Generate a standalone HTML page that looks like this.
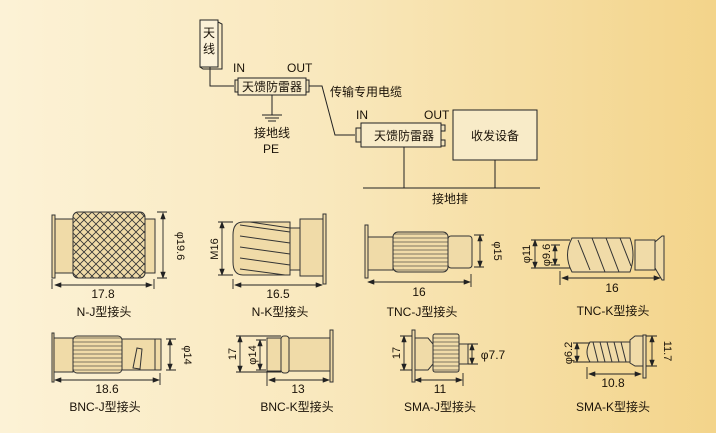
<!DOCTYPE html>
<html><head><meta charset="utf-8"><style>
html,body{margin:0;padding:0;width:716px;height:433px;overflow:hidden}
body{background:linear-gradient(90deg,#fcf2d6 0%,#f9e8bd 45%,#f3d48a 100%)}
svg{display:block}
text{font-family:"Liberation Sans","Noto Sans CJK SC",sans-serif;fill:#1a1208}
</style></head><body>
<svg width="716" height="433" viewBox="0 0 716 433" xmlns="http://www.w3.org/2000/svg">
<defs>
<marker id="a" markerWidth="8" markerHeight="6" refX="7" refY="3" orient="auto-start-reverse"><path d="M0,0 L8,3 L0,6 Z" fill="#222"/></marker>
<pattern id="knurl" width="8" height="8" patternUnits="userSpaceOnUse"><rect width="8" height="8" fill="#f0dba8"/><path d="M0,0L8,8M8,0L0,8" stroke="#333" stroke-width="0.8"/></pattern>
<pattern id="vstripe" width="4" height="4" patternUnits="userSpaceOnUse"><rect width="4" height="4" fill="#f0dba8"/><path d="M0,2H4" stroke="#333" stroke-width="0.6"/></pattern>
</defs>
<g stroke="#222" stroke-width="1" fill="none">
<rect x="200" y="20" width="18" height="47" fill="#fbf1d8"/>
<path d="M218,22 L222,24 L222,69 L203,69 L200,67" />
<path d="M210,67 V86 H234"/>
<rect x="235" y="80" width="3" height="12" fill="#f3e4bc"/>
<rect x="238" y="78" width="68" height="17" fill="#f8ebc8"/>
<rect x="306" y="80" width="3" height="12" fill="#f3e4bc"/>
<path d="M272,95 V115 M262,115 H282 M265,118 H279 M268,121 H276"/>
<path d="M309,86 H322 L335,135 H355"/>
<rect x="356" y="128" width="5" height="14" fill="#f3e4bc"/>
<rect x="361" y="123" width="80" height="24" fill="#f8ebc8"/>
<rect x="441" y="125" width="4" height="6" fill="#f3e4bc"/>
<rect x="441" y="140" width="4" height="6" fill="#f3e4bc"/>
<rect x="453" y="110" width="84" height="50" fill="#f8ebc8"/>
<path d="M404,147 V188 M495,160 V188 M363,188 H540"/>
</g>
<g font-size="12">
<text x="203" y="37">天</text><text x="203" y="53">线</text>
<text x="233" y="72">IN</text><text x="287" y="72">OUT</text>
<text x="242" y="91">天馈防雷器</text>
<text x="254" y="137">接地线</text><text x="263" y="153">PE</text>
<text x="330" y="96">传输专用电缆</text>
<text x="356" y="119">IN</text><text x="424" y="119">OUT</text>
<text x="374" y="140">天馈防雷器</text>
<text x="471" y="140">收发设备</text>
<text x="432" y="203">接地排</text>
</g>
<g stroke="#333" stroke-width="1" fill="#f0dba8">
<rect x="52" y="215" width="3" height="63"/>
<rect x="55" y="219" width="18" height="54"/>
<rect x="73" y="212" width="72" height="66" rx="5" fill="url(#knurl)"/>
<rect x="145" y="219" width="10" height="54"/>
<path d="M243,222 H290 V275 H243 Q233,275 233,262 V235 Q233,222 243,222 Z"/>
<path d="M240,225 L290,232 M240,236 L290,243 M240,247 L290,254 M240,258 L290,265 M240,269 L285,275 M250,222 L290,228" fill="none"/>
<rect x="290" y="228" width="10" height="42"/>
<rect x="300" y="219" width="23" height="57"/>
<rect x="323" y="214" width="3" height="70"/>
<rect x="365" y="225" width="3" height="53"/>
<rect x="368" y="237" width="25" height="33"/>
<rect x="393" y="232" width="55" height="40" rx="5" fill="url(#vstripe)"/>
<rect x="448" y="236" width="24" height="32" rx="3"/>
<path d="M572,238 H630 Q636,255 630,272 H572 Q563,255 572,238 Z"/>
<path d="M578,240 L590,270 M592,238 L605,272 M606,238 L619,272 M620,238 L631,266" fill="none"/>
<rect x="635" y="240" width="20" height="30"/>
<path d="M655,242 L662,236 H664 V280 H662 L655,268 Z"/>
<rect x="52" y="333" width="2" height="49"/>
<rect x="54" y="338" width="19" height="34"/>
<rect x="73" y="336" width="49" height="37" rx="4" fill="url(#vstripe)"/>
<rect x="122" y="339" width="33" height="31"/>
<rect x="155" y="339" width="6" height="31"/>
<path d="M133,368 L137,348 L142,349 L140,369 Z"/>
<rect x="267" y="338" width="14" height="33"/>
<rect x="281" y="336" width="8" height="37" rx="3"/>
<rect x="289" y="338" width="41" height="33"/>
<rect x="330" y="330" width="3" height="52"/>
<rect x="412" y="330" width="3" height="52"/>
<path d="M415,338 H428 L433,344 V364 L428,370 H415 Z"/>
<rect x="433" y="334" width="26" height="38" rx="2" fill="url(#vstripe)"/>
<rect x="459" y="344" width="9" height="20"/>
<path d="M590,342 H630 V362 H590 Q584,352 590,342 Z"/>
<path d="M593,342 L598,362 M600,342 L605,362 M607,342 L612,362 M614,342 L619,362 M621,342 L626,362" fill="none"/>
<path d="M630,340 L635,336 H643 V366 H635 L630,363 Z"/>
<rect x="643" y="335" width="3" height="43"/>
</g>
<g stroke="#222" stroke-width="0.9" fill="none">
<path d="M163,213V278" marker-start="url(#a)" marker-end="url(#a)"/><path d="M157,212H167M157,278H167"/>
<path d="M55,285H152" marker-start="url(#a)" marker-end="url(#a)"/><path d="M52,279V289M154,279V289"/>
<path d="M222,222V275" marker-start="url(#a)" marker-end="url(#a)"/><path d="M218,222H233M218,275H233"/>
<path d="M235,285H322" marker-start="url(#a)" marker-end="url(#a)"/><path d="M233,279V289"/>
<path d="M480,235V267" marker-start="url(#a)" marker-end="url(#a)"/><path d="M474,235H484M474,267H484"/>
<path d="M368,282H470" marker-start="url(#a)" marker-end="url(#a)"/><path d="M471,274V287"/>
<path d="M535,240V268" marker-start="url(#a)" marker-end="url(#a)"/><path d="M531,240H570M531,268H570"/>
<path d="M555,245V265" marker-start="url(#a)" marker-end="url(#a)"/><path d="M551,245H560M551,265H560"/>
<path d="M562,278H660" marker-start="url(#a)" marker-end="url(#a)"/><path d="M560,271V285"/>
<path d="M170,339V370" marker-start="url(#a)" marker-end="url(#a)"/><path d="M166,339H176M166,370H176"/>
<path d="M55,380H159" marker-start="url(#a)" marker-end="url(#a)"/><path d="M160,373V385"/>
<path d="M240,336V372" marker-start="url(#a)" marker-end="url(#a)"/><path d="M236,336H281M236,372H281"/>
<path d="M260,340V370" marker-start="url(#a)" marker-end="url(#a)"/><path d="M256,340H266M256,370H266"/>
<path d="M269,380H329" marker-start="url(#a)" marker-end="url(#a)"/><path d="M267,372V386"/>
<path d="M404,336V370" marker-start="url(#a)" marker-end="url(#a)"/><path d="M400,336H412M400,370H412"/>
<path d="M472,344V364" marker-start="url(#a)" marker-end="url(#a)"/><path d="M468,344H478M468,364H478"/>
<path d="M415,380H462" marker-start="url(#a)" marker-end="url(#a)"/><path d="M463,373V386"/>
<path d="M577,343V362" marker-start="url(#a)" marker-end="url(#a)"/><path d="M573,343H590M573,362H590"/>
<path d="M652,336V366" marker-start="url(#a)" marker-end="url(#a)"/><path d="M646,336H657M646,366H657"/>
<path d="M589,374H641" marker-start="url(#a)" marker-end="url(#a)"/><path d="M587,367V379"/>
</g>
<g font-size="12" text-anchor="middle">
<text x="103" y="298">17.8</text><text x="104" y="316">N-J型接头</text>
<text x="278" y="298">16.5</text><text x="280" y="316">N-K型接头</text>
<text x="419" y="296">16</text><text x="422" y="316">TNC-J型接头</text>
<text x="612" y="292">16</text><text x="613" y="315">TNC-K型接头</text>
<text x="107" y="393">18.6</text><text x="105" y="411">BNC-J型接头</text>
<text x="298" y="393">13</text><text x="297" y="411">BNC-K型接头</text>
<text x="440" y="393">11</text><text x="440" y="411">SMA-J型接头</text>
<text x="613" y="387">10.8</text><text x="613" y="411">SMA-K型接头</text>
<text x="493" y="359">φ7.7</text>
</g>
<g font-size="11" text-anchor="middle">
<text transform="translate(177,246) rotate(90)">φ19.6</text>
<text transform="translate(218,249) rotate(-90)">M16</text>
<text transform="translate(494,251) rotate(90)">φ15</text>
<text transform="translate(530,254) rotate(-90)">φ11</text>
<text transform="translate(550,255) rotate(-90)">φ9.6</text>
<text transform="translate(184,355) rotate(90)">φ14</text>
<text transform="translate(236,354) rotate(-90)">17</text>
<text transform="translate(256,355) rotate(-90)">φ14</text>
<text transform="translate(400,353) rotate(-90)">17</text>
<text transform="translate(572,353) rotate(-90)">φ6.2</text>
<text transform="translate(664,351) rotate(90)">11.7</text>
</g>
</svg>
</body></html>
